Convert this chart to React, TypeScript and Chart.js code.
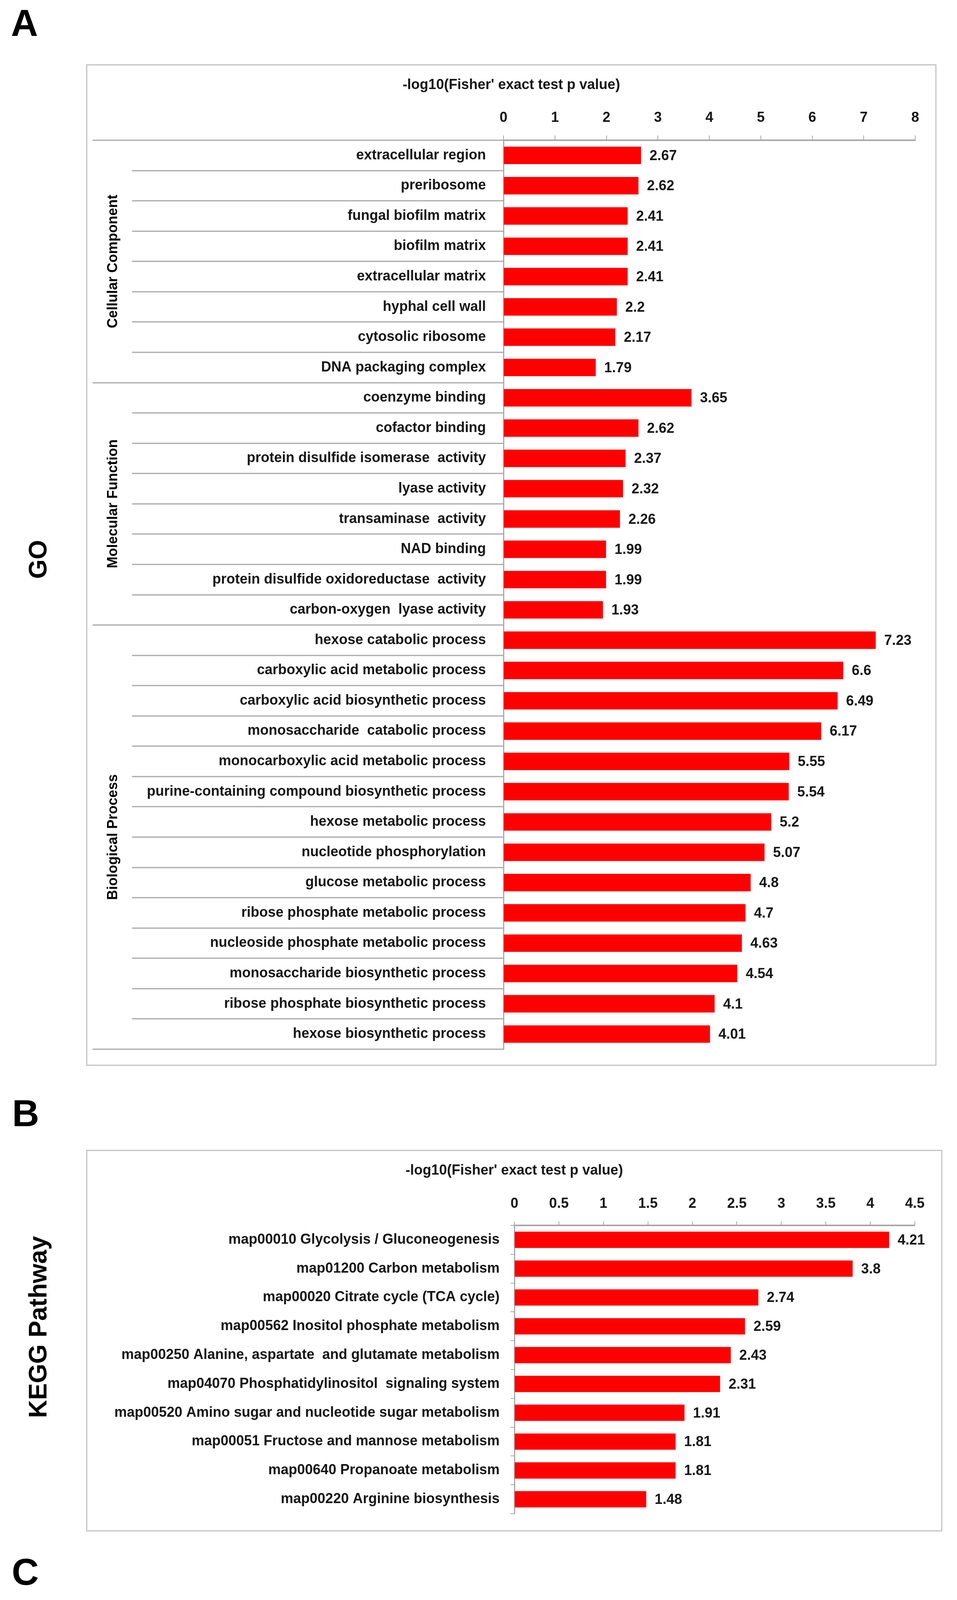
import React, { useEffect, useRef } from 'react';
import { Chart, registerables } from 'chart.js';

Chart.register(...registerables);

const FONT = '"Liberation Sans", Arial, sans-serif';
const TEXT = '#161616';
const LINE = '#a8a8a8';
const BOX = '#c2c2c2';
const BAR = '#ff0000';

const axisTitle = "-log10(Fisher' exact test p value)";

// ---- GO ----
const goCategories = [
  'extracellular region', 'preribosome', 'fungal biofilm matrix', 'biofilm matrix',
  'extracellular matrix', 'hyphal cell wall', 'cytosolic ribosome', 'DNA packaging complex',
  'coenzyme binding', 'cofactor binding', 'protein disulfide isomerase  activity', 'lyase activity',
  'transaminase  activity', 'NAD binding', 'protein disulfide oxidoreductase  activity', 'carbon-oxygen  lyase activity',
  'hexose catabolic process', 'carboxylic acid metabolic process', 'carboxylic acid biosynthetic process',
  'monosaccharide  catabolic process', 'monocarboxylic acid metabolic process',
  'purine-containing compound biosynthetic process', 'hexose metabolic process', 'nucleotide phosphorylation',
  'glucose metabolic process', 'ribose phosphate metabolic process', 'nucleoside phosphate metabolic process',
  'monosaccharide biosynthetic process', 'ribose phosphate biosynthetic process', 'hexose biosynthetic process',
];
const goValues = [
  2.67, 2.62, 2.41, 2.41, 2.41, 2.2, 2.17, 1.79,
  3.65, 2.62, 2.37, 2.32, 2.26, 1.99, 1.99, 1.93,
  7.23, 6.6, 6.49, 6.17, 5.55, 5.54, 5.2, 5.07, 4.8, 4.7, 4.63, 4.54, 4.1, 4.01,
];
const goGroupNames = ['Cellular Component', 'Molecular Function', 'Biological Process'];
const goGroupSizes = [8, 8, 14];
const goTicks = [0, 1, 2, 3, 4, 5, 6, 7, 8];

// ---- KEGG ----
const keggCategories = [
  'map00010 Glycolysis / Gluconeogenesis',
  'map01200 Carbon metabolism',
  'map00020 Citrate cycle (TCA cycle)',
  'map00562 Inositol phosphate metabolism',
  'map00250 Alanine, aspartate  and glutamate metabolism',
  'map04070 Phosphatidylinositol  signaling system',
  'map00520 Amino sugar and nucleotide sugar metabolism',
  'map00051 Fructose and mannose metabolism',
  'map00640 Propanoate metabolism',
  'map00220 Arginine biosynthesis',
];
const keggValues = [4.21, 3.8, 2.74, 2.59, 2.43, 2.31, 1.91, 1.81, 1.81, 1.48];
const keggTicks = [0, 0.5, 1, 1.5, 2, 2.5, 3, 3.5, 4, 4.5];

// ---- Protein Domain ----
const domainCategories = [
  'Rieske [2Fe-2S] domain',
  'Glutamine amidotransferase  class-I',
  'Aconitase C-terminal  domain',
  'Pyridine nucleotide-disulphide  oxidoreductase',
  'CoA-ligase',
  'Flavodoxin',
  'Bromodomain',
  'Carbamoyl-phosphate  synthase  L chain, ATP binding..',
  'Oxidoreductase NAD-binding  domain ',
  '2Fe-2S iron-sulfur  cluster binding domain',
  'Beta-ketoacyl  synthase,  C-terminal domain',
  'Beta-ketoacyl  synthase,  N-terminal domain',
];
const domainValues = [2.89, 2.74, 2.31, 1.74, 1.73, 1.71, 1.46, 1.46, 1.46, 1.34, 1.34, 1.34];
const domainTicks = [0, 0.5, 1, 1.5, 2, 2.5, 3, 3.5];

interface PanelCfg {
  letter: string;
  section: string;
  labels: string[];
  values: number[];
  ticks: number[];
  top: number;
  width: number;
  height: number;
  box: [number, number, number, number];
  area: [number, number, number, number];
  letterPos: [number, number];
  sectionY: number;
  titleY: number;
  barThickness: number;
  xTickLen: number;
  groups?: { names: string[]; sizes: number[] };
}

const panels: PanelCfg[] = [
  {
    letter: 'A', section: 'GO', labels: goCategories, values: goValues, ticks: goTicks,
    top: 0, width: 2450, height: 2780,
    box: [222, 166, 2396, 2727], area: [1289, 359, 2343, 2686],
    letterPos: [28, 92], sectionY: 1432, titleY: 218, barThickness: 44, xTickLen: 12,
    groups: { names: goGroupNames, sizes: goGroupSizes },
  },
  {
    letter: 'B', section: 'KEGG Pathway', labels: keggCategories, values: keggValues, ticks: keggTicks,
    top: 2780, width: 2450, height: 1180,
    box: [222, 165, 2411, 1139], area: [1317, 357, 2342, 1095],
    letterPos: [31, 103], sectionY: 617, titleY: 217, barThickness: 41, xTickLen: 10,
  },
  {
    letter: 'C', section: 'Protein Domain', labels: domainCategories, values: domainValues, ticks: domainTicks,
    top: 3960, width: 2450, height: 1345,
    box: [222, 173, 2424, 1314], area: [1250, 368, 2356, 1271],
    letterPos: [30, 97], sectionY: 728, titleY: 226, barThickness: 41, xTickLen: 10,
  },
];

function Panel({ cfg }: { cfg: PanelCfg }) {
  const ref = useRef<HTMLCanvasElement>(null);
  useEffect(() => {
    const canvas = ref.current;
    if (!canvas) return;
    const [al, at, ar, ab] = cfg.area;
    const [bl, bt, br, bb] = cfg.box;
    const font = { family: FONT, size: 36, weight: 'bold' as const };

    const decor = {
      id: 'decor',
      afterDraw(chart: any) {
        const ctx: CanvasRenderingContext2D = chart.ctx;
        const ca = chart.chartArea;
        ctx.save();
        // frame
        ctx.strokeStyle = BOX;
        ctx.lineWidth = 3;
        ctx.strokeRect(bl, bt, br - bl, bb - bt);

        // panel letter
        ctx.fillStyle = '#000';
        ctx.font = `bold 96px ${FONT}`;
        ctx.textAlign = 'left';
        ctx.textBaseline = 'alphabetic';
        ctx.fillText(cfg.letter, cfg.letterPos[0], cfg.letterPos[1]);

        // section label (rotated)
        ctx.save();
        ctx.translate(119, cfg.sectionY);
        ctx.rotate(-Math.PI / 2);
        ctx.font = `bold 64px ${FONT}`;
        ctx.textAlign = 'center';
        ctx.textBaseline = 'alphabetic';
        ctx.fillText(cfg.section, 0, 0);
        ctx.restore();

        // axis title
        ctx.fillStyle = TEXT;
        ctx.font = `bold 36px ${FONT}`;
        ctx.textAlign = 'center';
        ctx.textBaseline = 'middle';
        ctx.fillText(axisTitle, (bl + br) / 2, cfg.titleY);

        // GO table lines and group labels
        const yScale = chart.scales.y;
        if (cfg.groups) {
          const n = cfg.labels.length;
          const step = yScale.getPixelForValue(1) - yScale.getPixelForValue(0);
          const y0 = yScale.getPixelForValue(0) - step / 2;
          const groupBounds = [0];
          cfg.groups.sizes.forEach((s) => groupBounds.push(groupBounds[groupBounds.length - 1] + s));
          ctx.strokeStyle = LINE;
          ctx.lineWidth = 3;
          for (let k = 0; k <= n; k++) {
            const y = Math.round(y0 + k * step);
            const isGroup = groupBounds.includes(k);
            ctx.beginPath();
            ctx.moveTo(isGroup ? 237 : 338, y);
            ctx.lineTo(ca.left, y);
            ctx.stroke();
          }
          ctx.fillStyle = '#000';
          ctx.font = `bold 36px ${FONT}`;
          cfg.groups.names.forEach((name, gi) => {
            const yc = y0 + ((groupBounds[gi] + groupBounds[gi + 1]) / 2) * step;
            ctx.save();
            ctx.translate(300, yc);
            ctx.rotate(-Math.PI / 2);
            ctx.textAlign = 'center';
            ctx.textBaseline = 'alphabetic';
            ctx.fillText(name, 0, 0);
            ctx.restore();
          });
        }

        // value labels
        const meta = chart.getDatasetMeta(0);
        ctx.fillStyle = TEXT;
        ctx.font = `bold 36px ${FONT}`;
        ctx.textAlign = 'left';
        ctx.textBaseline = 'middle';
        meta.data.forEach((el: any, i: number) => {
          ctx.fillText(String(cfg.values[i]), el.x + 22, el.y + 2);
        });
        ctx.restore();
      },
    };

    const chart = new Chart(canvas, {
      type: 'bar',
      data: {
        labels: cfg.labels,
        datasets: [
          {
            data: cfg.values,
            backgroundColor: BAR,
            borderWidth: 0,
            barThickness: cfg.barThickness,
          },
        ],
      },
      options: {
        indexAxis: 'y',
        animation: false,
        responsive: false,
        devicePixelRatio: 1,
        events: [],
        layout: {
          padding: { left: 0, top: bt, right: cfg.width - ar, bottom: cfg.height - ab },
        },
        plugins: {
          legend: { display: false },
          tooltip: { enabled: false },
          title: { display: false },
        },
        scales: {
          x: {
            type: 'linear',
            position: 'top',
            min: 0,
            max: cfg.ticks[cfg.ticks.length - 1],
            afterBuildTicks: (s: any) => {
              s.ticks = cfg.ticks.map((v) => ({ value: v }));
            },
            afterFit: (s: any) => {
              s.height = at - bt;
            },
            grid: {
              display: true,
              drawOnChartArea: false,
              drawTicks: true,
              tickLength: cfg.xTickLen,
              color: LINE,
              lineWidth: 2,
            },
            border: { display: true, color: LINE, width: 4 },
            ticks: {
              padding: 23,
              color: TEXT,
              font,
              maxRotation: 0,
              autoSkip: false,
              callback: (v: any) => String(v),
            },
          },
          y: {
            type: 'category',
            position: 'left',
            afterFit: (s: any) => {
              s.width = al;
            },
            grid: cfg.groups
              ? { display: false }
              : {
                  display: true,
                  drawOnChartArea: false,
                  drawTicks: true,
                  tickLength: 10,
                  color: LINE,
                  lineWidth: 2,
                  offset: true,
                },
            border: { display: true, color: LINE, width: 3 },
            ticks: {
              padding: cfg.groups ? 37 : 28,
              color: TEXT,
              font,
              autoSkip: false,
            },
          },
        },
      },
      plugins: [decor],
    } as any);
    return () => chart.destroy();
  }, [cfg]);

  return (
    <canvas
      ref={ref}
      width={cfg.width}
      height={cfg.height}
      style={{
        position: 'absolute',
        left: 0,
        top: cfg.top,
        width: cfg.width,
        height: cfg.height,
        display: 'block',
      }}
    />
  );
}

export default function App() {
  return (
    <div
      style={{
        position: 'relative',
        margin: '-8px 0 0 -8px',
        width: 2450,
        height: 5305,
        background: '#ffffff',
        overflow: 'hidden',
      }}
    >
      {panels.map((p) => (
        <Panel key={p.letter} cfg={p} />
      ))}
    </div>
  );
}
